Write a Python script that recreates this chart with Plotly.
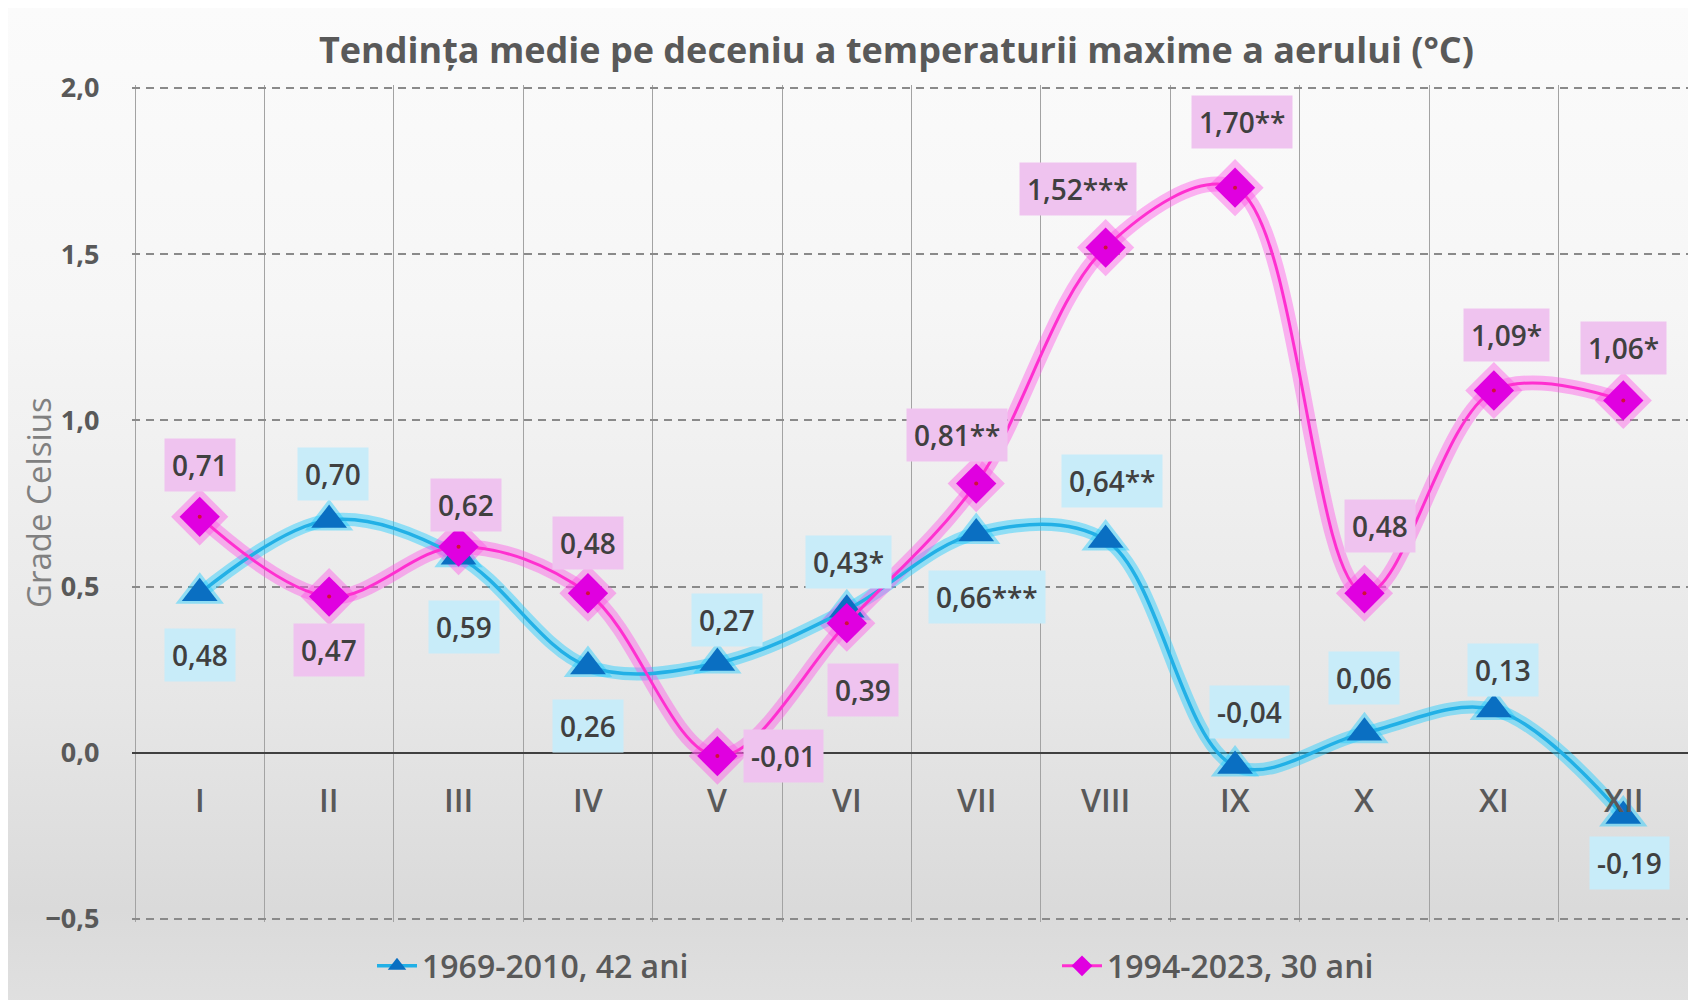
import base64
import plotly.graph_objects as go

categories = ["I", "II", "III", "IV", "V", "VI", "VII", "VIII", "IX", "X", "XI", "XII"]
series_a_name = "1969-2010, 42 ani"
series_a = [0.48, 0.70, 0.59, 0.26, 0.27, 0.43, 0.66, 0.64, -0.04, 0.06, 0.13, -0.19]
series_a_labels = ["0,48", "0,70", "0,59", "0,26", "0,27", "0,43*", "0,66***", "0,64**",
                   "-0,04", "0,06", "0,13", "-0,19"]
series_b_name = "1994-2023, 30 ani"
series_b = [0.71, 0.47, 0.62, 0.48, -0.01, 0.39, 0.81, 1.52, 1.70, 0.48, 1.09, 1.06]
series_b_labels = ["0,71", "0,47", "0,62", "0,48", "-0,01", "0,39", "0,81**", "1,52***",
                   "1,70**", "0,48", "1,09*", "1,06*"]
y_ticks = [-0.5, 0.0, 0.5, 1.0, 1.5, 2.0]

# label offsets in pixels (style)
a_off = [(0, -62), (4, 46), (5, -70), (0, -60), (10, 43), (2, 48), (11, -64), (6, 59),
         (14, 54), (0, 55), (9, 40), (6, -47)]
b_off = [(0, 52), (0, -53), (7, 42), (0, 50), (66, 0), (16, -67), (-19, 49), (-28, 59),
         (7, 66), (16, 67), (13, 55), (0, 52)]

x = list(range(len(categories)))

W, H = 1696, 1000
OFF = 8  # page body margin compensation
# plot area (pixels), padded a little so the edge gridlines are drawn
XPAD, YPAD = 0.02, 0.008
L, R, T, B = 135 - OFF, 1688 - OFF, 88 - OFF, 919 - OFF
cw = (R - L) / len(categories)
uy = (B - T) / 2.5
Lp, Rp = L - XPAD * cw, R + XPAD * cw
Tp, Bp = T - YPAD * uy, B + YPAD * uy

svg = f'''<svg xmlns="http://www.w3.org/2000/svg" width="{W}" height="{H}" preserveAspectRatio="none">
<defs><linearGradient id="g" x1="0" y1="0" x2="0" y2="1">
<stop offset="0" stop-color="#fbfbfb"/><stop offset="0.3" stop-color="#f6f6f6"/>
<stop offset="0.7" stop-color="#e6e6e6"/><stop offset="0.9" stop-color="#dadada"/>
<stop offset="1" stop-color="#e0e0e0"/></linearGradient></defs>
<rect width="{W}" height="{H}" fill="url(#g)"/></svg>'''
bg_src = "data:image/svg+xml;base64," + base64.b64encode(svg.encode()).decode()

fig = go.Figure()

blue_line = "#22b0e6"
blue_glow = "rgba(30,205,255,0.45)"
blue_marker = "#0a6fc2"
mag_line = "#ff2fd0"
mag_glow = "rgba(255,80,230,0.42)"
mag_marker = "#e000e0"

# glow traces
fig.add_trace(go.Scatter(x=x, y=series_a, mode="lines+markers", showlegend=False, hoverinfo="skip",
                         line=dict(color=blue_glow, width=13, shape="spline", smoothing=1.0),
                         marker=dict(symbol="triangle-up", size=42, color=blue_glow)))
fig.add_trace(go.Scatter(x=x, y=series_b, mode="lines+markers", showlegend=False, hoverinfo="skip",
                         line=dict(color=mag_glow, width=15, shape="spline", smoothing=1.0),
                         marker=dict(symbol="diamond", size=44, color=mag_glow)))
# main traces
fig.add_trace(go.Scatter(x=x, y=series_a, mode="lines+markers", name=series_a_name, legend="legend",
                         line=dict(color=blue_line, width=3.5, shape="spline", smoothing=1.0),
                         marker=dict(symbol="triangle-up", size=31, color=blue_marker)))
fig.add_trace(go.Scatter(x=x, y=series_b, mode="lines+markers", name=series_b_name, legend="legend2",
                         line=dict(color=mag_line, width=3, shape="spline", smoothing=1.0),
                         marker=dict(symbol="diamond", size=31, color=mag_marker)))
fig.add_trace(go.Scatter(x=x, y=series_b, mode="markers", showlegend=False, hoverinfo="skip",
                         marker=dict(symbol="circle", size=4, color="#d0103a")))

annotations = []
lab_font = dict(family="Open Sans", size=28, color="#404040", weight=600)
for i in x:
    annotations.append(dict(x=i, y=series_a[i], xref="x", yref="y", text=series_a_labels[i],
                            showarrow=False, xshift=a_off[i][0], yshift=a_off[i][1],
                            bgcolor="#c8ecf9", borderpad=7, font=lab_font))
    annotations.append(dict(x=i, y=series_b[i], xref="x", yref="y", text=series_b_labels[i],
                            showarrow=False, xshift=b_off[i][0], yshift=b_off[i][1],
                            bgcolor="#efc3ef", borderpad=7, font=lab_font))
    annotations.append(dict(x=i, y=0, xref="x", yref="y", text=categories[i], showarrow=False,
                            yshift=-47, font=dict(family="Open Sans", size=32, color="#595959", weight=600)))

annotations.append(dict(x=(896 - OFF) / W, y=1 - (49 - OFF) / H, xref="paper", yref="paper",
                        text="Tendința medie pe deceniu a temperaturii maxime a aerului (°C)",
                        showarrow=False, xanchor="center", yanchor="middle",
                        font=dict(family="Open Sans", size=36, color="#595959", weight=700)))
annotations.append(dict(x=(38 - OFF) / W, y=1 - (503 - OFF) / H, xref="paper", yref="paper",
                        text="Grade Celsius",
                        showarrow=False, textangle=-90, xanchor="center", yanchor="middle",
                        font=dict(family="Open Sans", size=33, color="#808080")))

leg_font = dict(family="Open Sans", size=32, color="#595959", weight=600)

fig.update_layout(
    width=W, height=H,
    margin=dict(l=0, r=0, t=0, b=0, pad=0, autoexpand=False),
    paper_bgcolor="#eeeeee",
    plot_bgcolor="rgba(0,0,0,0)",
    separators=", ",
    images=[dict(source=bg_src, xref="paper", yref="paper", x=0, y=1, sizex=1, sizey=1,
                 sizing="stretch", layer="below", xanchor="left", yanchor="top")],
    xaxis=dict(domain=[Lp / W, Rp / W], range=[-0.5 - XPAD, len(categories) - 0.5 + XPAD],
               tickvals=[i - 0.5 for i in range(len(categories) + 1)], showticklabels=False,
               showgrid=True, gridcolor="#a3a3a3", gridwidth=1.3, zeroline=False, ticks="",
               automargin=False),
    yaxis=dict(domain=[1 - Bp / H, 1 - Tp / H], range=[-0.5 - YPAD, 2.0 + YPAD], tickvals=y_ticks,
               tickformat=".1f", showgrid=True, gridcolor="#8a8a8a", gridwidth=1.6,
               griddash="8px,6px", zeroline=True, zerolinecolor="#404040", zerolinewidth=1.6,
               ticks="outside", ticklen=24 + XPAD * cw, tickcolor="rgba(0,0,0,0)", automargin=False,
               tickfont=dict(family="Open Sans", size=27, color="#595959", weight=700)),
    legend=dict(orientation="h", x=(372 - OFF) / W, y=1 - (966 - OFF) / H, xanchor="left",
                yanchor="middle", bgcolor="rgba(0,0,0,0)", font=leg_font, itemwidth=40),
    legend2=dict(orientation="h", x=(1057 - OFF) / W, y=1 - (966 - OFF) / H, xanchor="left",
                 yanchor="middle", bgcolor="rgba(0,0,0,0)", font=leg_font, itemwidth=40),
    annotations=annotations,
    showlegend=True,
)

fig.write_html("out.html")
